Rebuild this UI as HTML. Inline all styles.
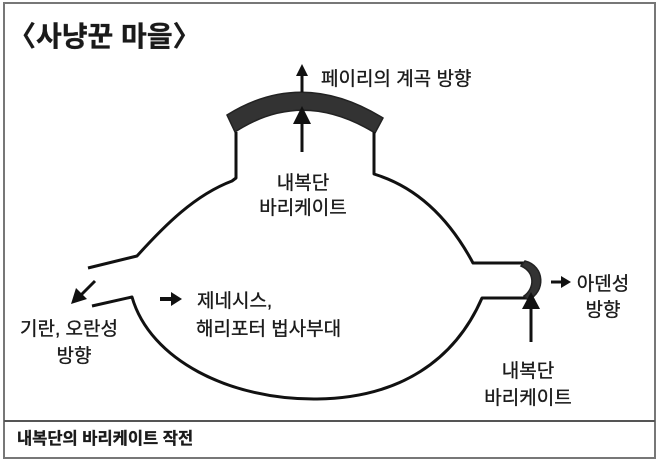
<!DOCTYPE html>
<html><head><meta charset="utf-8"><style>
html,body{margin:0;padding:0;background:#fff;}
svg{display:block;}
text{font-family:"Liberation Sans","Noto Sans CJK KR","NanumGothic",sans-serif;fill:#1a1a1a;stroke:#1a1a1a;stroke-width:0.35;}
</style></head><body>
<svg width="658" height="461" viewBox="0 0 658 461" xmlns="http://www.w3.org/2000/svg">
<rect x="0" y="0" width="658" height="461" fill="#fff"/>
<rect x="4" y="3" width="651" height="455" fill="none" stroke="#777" stroke-width="2"/>
<line x1="4" y1="421" x2="655" y2="421" stroke="#555" stroke-width="2"/>
<text x="8" y="46" font-size="28" font-weight="bold">〈사냥꾼 마을〉</text>
<text x="17" y="444" font-size="16.5" font-weight="bold">내복단의 바리케이트 작전</text>

<path d="M227,115 Q302,68 383,118 L375,133 Q302,88 235,132 Z" fill="#333" stroke="#222" stroke-width="1.5"/>
<g fill="none" stroke="#111" stroke-width="3" stroke-linejoin="round">
<path d="M236,132 L236,178 L232,181 C195,195 165,225 137,256 L88,268"/>
<path d="M374,132 L374,174 L380,176 C420,190 450,220 473,263 L527,263"/>
<path d="M92,306 L132,297 C150,360 230,400 317,399 C400,398 455,360 482,298 L527,298"/>
</g>
<path d="M525,261 C545,266 546,292 528,300 L524,296 C535,288 535,272 521,266 Z" fill="#333" stroke="#222" stroke-width="1.5"/>

<g stroke="#111" stroke-width="3" fill="#111">
<line x1="302" y1="92" x2="302" y2="74"/>
<polygon points="302,64 296,76 308,76" stroke="none"/>
<line x1="302" y1="152" x2="302" y2="120"/>
<polygon points="302,106 293,124 311,124" stroke="none"/>
<line x1="531" y1="342" x2="531" y2="306"/>
<polygon points="531,292 522,309 540,309" stroke="none"/>
<line x1="95" y1="281" x2="80" y2="296"/>
<polygon points="71,304 76,288 87,299" stroke="none"/>
<line x1="160" y1="299" x2="172" y2="299" stroke-width="4"/>
<polygon points="182,299 171,292 171,306" stroke="none"/>
<line x1="551" y1="282" x2="563" y2="282" stroke-width="3"/>
<polygon points="571,282 561,276 561,288" stroke="none"/>
</g>

<text x="321" y="85" font-size="19">페이리의 계곡 방향</text>
<text x="303" y="189" font-size="19" text-anchor="middle">내복단</text>
<text x="303" y="214" font-size="19" text-anchor="middle">바리케이트</text>
<text x="197" y="307" font-size="19">제네시스,</text>
<text x="196" y="335" font-size="19">해리포터 법사부대</text>
<text x="20" y="335" font-size="19">기란, 오란성</text>
<text x="74" y="362" font-size="19" text-anchor="middle">방향</text>
<text x="603" y="290" font-size="19" text-anchor="middle">아덴성</text>
<text x="603" y="316" font-size="19" text-anchor="middle">방향</text>
<text x="528" y="377" font-size="19" text-anchor="middle">내복단</text>
<text x="528" y="404" font-size="19" text-anchor="middle">바리케이트</text>
</svg>
</body></html>
